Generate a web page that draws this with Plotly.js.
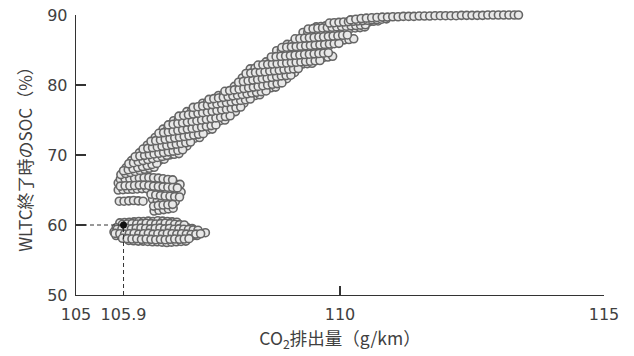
<!DOCTYPE html>
<html>
<head>
<meta charset="utf-8">
<script src="https://cdn.plot.ly/plotly-3.0.1.min.js"></script>
<style>html,body{margin:0;padding:0;background:#fff}#chart{width:634px;height:356px}</style>
</head>
<body>
<div id="chart"></div>
<script>
// ---- data ----
const xTickVals = [105, 105.9, 110, 115];
const xTickText = ['105', '105.9', '110', '115'];
const xMarkVals = [110, 115];          // positions with a tick mark
const yTickVals = [50, 60, 70, 80, 90];
const refX = 105.9;   // highlighted point
const refY = 60;

// lower cluster (SOC ~57-61 %)
const lowX = [
  105.83,105.92,106.01,106.10,106.19,106.28,106.37,106.46,106.55,106.64,106.73,106.82,106.91,
  105.76,105.85,105.94,106.03,106.12,106.21,106.30,106.39,106.48,106.57,106.66,106.75,106.84,106.93,107.02,107.11,107.20,
  105.72,105.81,105.90,105.99,106.08,106.17,106.26,106.35,106.44,106.53,106.62,106.71,106.80,106.89,106.98,107.07,107.16,107.25,107.45,
  105.76,105.85,105.94,106.03,106.12,106.21,106.30,106.39,106.48,106.57,106.66,106.75,106.84,106.93,107.02,107.11,107.20,107.29,
  106.00,106.09,106.18,106.27,106.36,106.45,106.54,106.63,106.72,106.81,106.90,106.99,107.08
];
const lowY = [
  60.3,60.35,60.4,60.45,60.5,60.5,60.55,60.5,60.6,60.55,60.5,60.45,60.4,
  59.6,59.65,59.7,59.75,59.8,59.85,59.8,59.9,59.85,59.8,59.9,59.8,59.75,59.7,59.65,59.6,59.5,
  59.0,59.05,59.1,59.1,59.15,59.2,59.1,59.2,59.15,59.1,59.2,59.1,59.05,59.1,59.0,59.05,59.0,58.95,58.9,
  58.5,58.45,58.4,58.4,58.35,58.4,58.3,58.35,58.4,58.3,58.35,58.3,58.4,58.35,58.3,58.4,58.45,58.5,
  57.8,57.75,57.7,57.7,57.65,57.6,57.6,57.55,57.5,57.55,57.6,57.65,57.7
];
const lowX2 = [
  105.88,105.97,106.06,106.15,106.24,106.33,106.42,106.51,106.60,106.69,106.78,106.87,106.96,107.05,
  105.78,105.87,105.96,106.05,106.14,106.23,106.32,106.41,106.50,106.59,106.68,106.77,106.86,106.95,107.04,107.13,107.22,107.31,
  105.74,105.83,105.92,106.01,106.10,106.19,106.28,106.37,106.46,106.55,106.64,106.73,106.82,106.91,107.00,107.09,107.18,107.27,107.36,
  105.88,105.97,106.06,106.15,106.24,106.33,106.42,106.51,106.60,106.69,106.78,106.87,106.96,107.05,107.14
];
const lowY2 = [
  60.1,60.15,60.2,60.15,60.2,60.25,60.2,60.15,60.2,60.25,60.2,60.1,60.05,60.0,
  59.4,59.45,59.5,59.45,59.5,59.55,59.5,59.45,59.5,59.55,59.45,59.5,59.4,59.45,59.4,59.35,59.3,59.25,
  58.8,58.75,58.7,58.75,58.8,58.7,58.75,58.8,58.7,58.75,58.7,58.8,58.75,58.7,58.75,58.7,58.65,58.7,58.75,
  58.1,58.05,58.0,58.05,57.95,58.0,57.95,57.9,57.95,57.9,57.95,58.0,57.95,58.0,58.05
];

// middle cluster (SOC ~62-67 %)
const midX = [
  105.80,105.89,105.98,106.07,106.16,106.25,106.34,106.43,106.52,106.61,106.70,106.79,106.88,106.97,
  105.80,105.89,105.98,106.07,106.16,106.25,106.34,
  106.45,106.54,106.63,106.72,106.81,106.90,106.99,
  105.82,105.91,106.00,106.09,106.18,106.27,
  106.45,106.54,106.63,106.72,106.81,106.88,
  106.48,106.57,106.66,106.75,106.84
];
const midY = [
  66.0,66.05,66.1,66.15,66.2,66.2,66.25,66.3,66.2,66.1,66.0,65.9,65.85,65.8,
  65.0,65.05,65.1,65.1,65.15,65.2,65.2,
  65.0,64.9,64.85,64.8,64.75,64.7,64.7,
  63.4,63.4,63.45,63.5,63.45,63.4,
  63.7,63.5,63.4,63.3,63.3,63.35,
  62.0,62.1,62.2,62.3,62.4
];
const midX2 = [
  105.84,105.93,106.02,106.11,106.20,106.29,106.38,106.47,106.56,106.65,106.74,106.83,
  105.84,105.93,106.02,106.11,106.20,106.29,106.38,106.47,106.56,106.65,106.74,106.83,106.92,
  106.42,106.51,106.60,106.69,106.78,106.87,106.96,
  106.47,106.56,106.65,106.74,106.83
];
const midY2 = [
  66.55,66.6,66.65,66.7,66.7,66.75,66.8,66.75,66.7,66.6,66.5,66.45,
  65.55,65.6,65.6,65.65,65.7,65.7,65.65,65.55,65.5,65.45,65.4,65.35,65.3,
  64.4,64.3,64.2,64.15,64.1,64.05,64.0,
  62.7,62.8,62.85,62.9,62.95
];

// main rising band (SOC ~67-89 %)
const mainX = [
  105.85,105.94,106.03,106.12,106.21,106.30,106.39,106.48,
  105.95,106.04,106.13,106.22,106.31,106.40,106.49,106.58,106.67,
  106.05,106.14,106.23,106.32,106.41,106.50,106.59,106.68,106.77,106.86,106.95,
  106.20,106.29,106.38,106.47,106.56,106.65,106.74,106.83,106.92,107.01,107.10,
  106.35,106.44,106.53,106.62,106.71,106.80,106.89,106.98,107.07,107.16,107.25,107.34,
  106.50,106.59,106.68,106.77,106.86,106.95,107.04,107.13,107.22,107.31,107.40,107.49,107.58,
  106.65,106.74,106.83,106.92,107.01,107.10,107.19,107.28,107.37,107.46,107.55,107.64,107.73,107.82,
  106.85,106.94,107.03,107.12,107.21,107.30,107.39,107.48,107.57,107.66,107.75,107.84,107.93,108.02,
  107.10,107.19,107.28,107.37,107.46,107.55,107.64,107.73,107.82,107.91,108.00,108.09,108.18,
  107.40,107.49,107.58,107.67,107.76,107.85,107.94,108.03,108.12,108.21,108.30,108.39,108.48,
  107.70,107.79,107.88,107.97,108.06,108.15,108.24,108.33,108.42,108.51,108.60,108.69,108.78,
  108.00,108.09,108.18,108.27,108.36,108.45,108.54,108.63,108.72,108.81,108.90,108.99,
  108.15,108.24,108.33,108.42,108.51,108.60,108.69,108.78,108.87,108.96,109.05,109.14,
  108.30,108.39,108.48,108.57,108.66,108.75,108.84,108.93,109.02,109.11,109.20,109.29,109.38,109.47,
  108.60,108.69,108.78,108.87,108.96,109.05,109.14,109.23,109.32,109.41,109.50,109.59,109.68,109.77,109.86,
  108.80,108.89,108.98,109.07,109.16,109.25,109.34,109.43,109.52,109.61,109.70,109.79,
  109.00,109.09,109.18,109.27,109.36,109.45,109.54,109.63,109.72,109.81,109.90,109.99,110.08,110.17,110.26,
  109.30,109.39,109.48,109.57,109.66,109.75,109.84,109.93,110.02,110.11,110.20,110.29,110.38,110.47,
  109.55,109.64,109.73,109.82,109.91,110.00,110.09,110.18,110.27,110.36,110.45,110.54,110.63,110.72
];
const mainY = [
  67.2,67.35,67.5,67.65,67.8,67.95,68.1,68.25,
  68.2,68.35,68.5,68.65,68.8,68.95,69.1,69.25,69.4,
  69.2,69.3,69.4,69.5,69.6,69.7,69.8,69.9,70.0,70.1,70.2,
  70.3,70.4,70.5,70.6,70.7,70.8,70.9,71.0,71.1,71.2,71.3,
  71.4,71.5,71.6,71.7,71.8,71.9,72.0,72.1,72.2,72.3,72.4,72.5,
  72.5,72.6,72.7,72.8,72.9,73.0,73.1,73.2,73.3,73.4,73.5,73.6,73.7,
  73.7,73.8,73.9,74.0,74.1,74.2,74.3,74.4,74.5,74.6,74.7,74.8,74.9,75.0,
  74.9,75.0,75.1,75.2,75.3,75.4,75.5,75.6,75.7,75.8,75.9,76.0,76.1,76.2,
  76.2,76.3,76.4,76.5,76.6,76.7,76.8,76.9,77.0,77.1,77.2,77.3,77.4,
  77.4,77.5,77.6,77.7,77.8,77.9,78.0,78.1,78.2,78.3,78.4,78.5,78.6,
  78.5,78.6,78.7,78.8,78.9,79.0,79.1,79.2,79.3,79.4,79.5,79.6,79.7,
  79.8,79.9,80.0,80.1,80.2,80.3,80.4,80.5,80.6,80.7,80.8,80.9,
  81.0,81.1,81.2,81.2,81.3,81.4,81.5,81.5,81.6,81.7,81.7,81.8,
  82.3,82.4,82.45,82.5,82.6,82.65,82.7,82.8,82.85,82.9,82.95,83.0,83.05,83.1,
  83.3,83.35,83.4,83.45,83.5,83.55,83.6,83.65,83.7,83.75,83.8,83.85,83.9,84.0,84.1,
  84.9,85.0,85.05,85.1,85.15,85.2,85.3,85.35,85.4,85.45,85.5,85.6,
  85.8,85.85,85.9,85.95,86.0,86.05,86.1,86.2,86.25,86.3,86.35,86.4,86.45,86.5,86.6,
  87.5,87.55,87.6,87.7,87.75,87.8,87.85,87.9,88.0,88.05,88.1,88.15,88.2,88.3,
  88.3,88.35,88.45,88.5,88.55,88.6,88.7,88.75,88.8,88.9,88.95,89.0,89.1,89.15
];
const mainX2 = [
  105.90,105.99,106.08,106.17,106.26,106.35,106.44,106.53,
  106.00,106.09,106.18,106.27,106.36,106.45,106.54,106.63,106.72,
  106.12,106.21,106.30,106.39,106.48,106.57,106.66,106.75,106.84,106.93,107.02,
  106.27,106.36,106.45,106.54,106.63,106.72,106.81,106.90,106.99,107.08,107.17,
  106.42,106.51,106.60,106.69,106.78,106.87,106.96,107.05,107.14,107.23,107.32,107.41,
  106.57,106.66,106.75,106.84,106.93,107.02,107.11,107.20,107.29,107.38,107.47,107.56,107.65,
  106.75,106.84,106.93,107.02,107.11,107.20,107.29,107.38,107.47,107.56,107.65,107.74,107.83,107.92,
  106.95,107.04,107.13,107.22,107.31,107.40,107.49,107.58,107.67,107.76,107.85,107.94,108.03,108.12,
  107.22,107.31,107.40,107.49,107.58,107.67,107.76,107.85,107.94,108.03,108.12,108.21,108.30,
  107.52,107.61,107.70,107.79,107.88,107.97,108.06,108.15,108.24,108.33,108.42,108.51,108.60,
  107.82,107.91,108.00,108.09,108.18,108.27,108.36,108.45,108.54,108.63,108.72,108.81,108.90,
  108.08,108.17,108.26,108.35,108.44,108.53,108.62,108.71,108.80,108.89,108.98,109.07,
  108.22,108.31,108.40,108.49,108.58,108.67,108.76,108.85,108.94,109.03,109.12,109.21,
  108.45,108.54,108.63,108.72,108.81,108.90,108.99,109.08,109.17,109.26,109.35,109.44,109.53,109.62,
  108.70,108.79,108.88,108.97,109.06,109.15,109.24,109.33,109.42,109.51,109.60,109.69,109.78,
  108.90,108.99,109.08,109.17,109.26,109.35,109.44,109.53,109.62,109.71,109.80,109.89,109.98,
  109.15,109.24,109.33,109.42,109.51,109.60,109.69,109.78,109.87,109.96,110.05,110.14,
  109.40,109.49,109.58,109.67,109.76,109.85,109.94,110.03,110.12,110.21,110.30,110.39,110.48,
  109.80,109.89,109.98,110.07,110.16,110.25,110.34,110.43,110.52,110.61,110.70,110.79,110.88
];
const mainY2 = [
  67.75,67.9,68.05,68.2,68.35,68.5,68.65,68.8,
  68.75,68.9,69.05,69.2,69.35,69.5,69.65,69.8,69.95,
  69.75,69.85,69.95,70.05,70.15,70.25,70.35,70.45,70.55,70.65,70.75,
  70.85,70.95,71.05,71.15,71.25,71.35,71.45,71.55,71.65,71.75,71.85,
  71.95,72.05,72.15,72.25,72.35,72.45,72.55,72.65,72.75,72.85,72.95,73.05,
  73.1,73.2,73.3,73.4,73.5,73.6,73.7,73.8,73.9,74.0,74.1,74.2,74.3,
  74.3,74.4,74.5,74.6,74.7,74.8,74.9,75.0,75.1,75.2,75.3,75.4,75.5,75.6,
  75.55,75.65,75.75,75.85,75.95,76.05,76.15,76.25,76.35,76.45,76.55,76.65,76.75,76.85,
  76.8,76.9,77.0,77.1,77.2,77.3,77.4,77.5,77.6,77.7,77.8,77.9,78.0,
  77.95,78.05,78.15,78.25,78.35,78.45,78.55,78.65,78.75,78.85,78.95,79.05,79.15,
  79.1,79.2,79.3,79.4,79.5,79.6,79.7,79.8,79.9,80.0,80.1,80.2,80.3,
  80.4,80.5,80.6,80.7,80.8,80.9,81.0,81.1,81.2,81.3,81.35,81.4,
  81.65,81.7,81.8,81.85,81.9,82.0,82.05,82.1,82.2,82.25,82.3,82.35,
  82.85,82.9,82.95,83.0,83.05,83.1,83.15,83.2,83.25,83.3,83.35,83.4,83.45,83.5,
  84.0,84.05,84.1,84.15,84.2,84.25,84.3,84.35,84.4,84.45,84.5,84.55,84.6,
  85.35,85.4,85.45,85.5,85.55,85.6,85.65,85.7,85.75,85.8,85.85,85.9,85.95,
  86.6,86.65,86.7,86.75,86.8,86.85,86.9,86.95,87.0,87.05,87.1,87.15,
  88.0,88.05,88.1,88.15,88.2,88.25,88.3,88.35,88.4,88.45,88.5,88.55,88.6,
  88.85,88.9,88.95,89.0,89.05,89.1,89.15,89.2,89.25,89.3,89.35,89.4,89.45
];

// top plateau (SOC ~90 %)
const topX = [110.20,110.30,110.40,110.50,110.60,110.70,110.80,110.90,111.00,111.10,111.20,111.30,111.40,111.50,111.60,111.70,111.80,111.90,112.00,112.10,112.20,112.30,112.40,112.50,112.60,112.70,112.80,112.90,113.00,113.10,113.20,113.30,113.38];
const topY = [89.3,89.4,89.5,89.55,89.6,89.65,89.7,89.7,89.75,89.75,89.8,89.8,89.8,89.85,89.85,89.85,89.9,89.9,89.9,89.9,89.9,89.95,89.95,89.95,89.95,89.95,90.0,90.0,90.0,90.0,90.0,90.0,90.0];

// ---- chart ----
const NUMFONT = '"DejaVu Sans", "Noto Sans CJK JP", sans-serif';
const TITLEFONT = '"Noto Sans CJK JP", "Noto Sans", sans-serif';
const TXT = '#404040';
const mk = {symbol: 'circle', size: 8, color: '#e8e8e8', line: {color: '#656565', width: 1.6}};
const dotsX = lowX.concat(lowX2, midX, midX2, mainX, mainX2, topX);
const dotsY = lowY.concat(lowY2, midY, midY2, mainY, mainY2, topY);

const traces = [
  {x: dotsX, y: dotsY, type: 'scatter', mode: 'markers', marker: mk, cliponaxis: false},
  {x: [xTickVals[0], refX], y: [refY, refY], type: 'scatter', mode: 'lines',
   line: {color: '#333', width: 1, dash: '4px,3px'}},
  {x: [refX, refX], y: [yTickVals[0], refY], type: 'scatter', mode: 'lines',
   line: {color: '#333', width: 1, dash: '4px,3px'}},
  {x: [refX], y: [refY], type: 'scatter', mode: 'markers', cliponaxis: false,
   marker: {symbol: 'circle', size: 7, color: '#111', line: {color: '#111', width: 0}}},
  {x: [xMarkVals[0]], y: [null], xaxis: 'x2', type: 'scatter', mode: 'markers'}
];

const layout = {
  width: 634, height: 356,
  margin: {l: 76, r: 30, t: 15, b: 61},
  paper_bgcolor: '#fff', plot_bgcolor: '#fff',
  showlegend: false,
  font: {family: NUMFONT, size: 16, color: TXT},
  xaxis: {
    range: [105, 115], tickmode: 'array', tickvals: xTickVals, ticktext: xTickText,
    ticks: '', showgrid: false, zeroline: false,
    showline: true, linecolor: '#333', linewidth: 1.3,
    ticklabelstandoff: 4,
    tickfont: {family: NUMFONT, size: 16, color: TXT},
    title: {text: 'CO<sub>2</sub>排出量（g/km）', font: {family: TITLEFONT, size: 17.5, color: TXT}, standoff: 10}
  },
  xaxis2: {
    overlaying: 'x', anchor: 'y', side: 'bottom', range: [105, 115],
    tickmode: 'array', tickvals: xMarkVals, ticks: 'inside', ticklen: 9, tickwidth: 1.2, tickcolor: '#333',
    showticklabels: false, showline: false, showgrid: false, zeroline: false
  },
  yaxis: {
    range: [50, 90], tickmode: 'array', tickvals: yTickVals,
    ticks: 'inside', ticklen: 10, tickwidth: 1.2, tickcolor: '#333',
    showgrid: false, zeroline: false,
    showline: true, linecolor: '#333', linewidth: 1.3,
    ticklabelstandoff: 4,
    tickfont: {family: NUMFONT, size: 16, color: TXT},
    title: {text: 'WLTC終了時のSOC（%）', font: {family: TITLEFONT, size: 17, color: TXT}, standoff: 10}
  }
};

Plotly.newPlot('chart', traces, layout, {displayModeBar: false, staticPlot: true});
</script>
</body>
</html>
